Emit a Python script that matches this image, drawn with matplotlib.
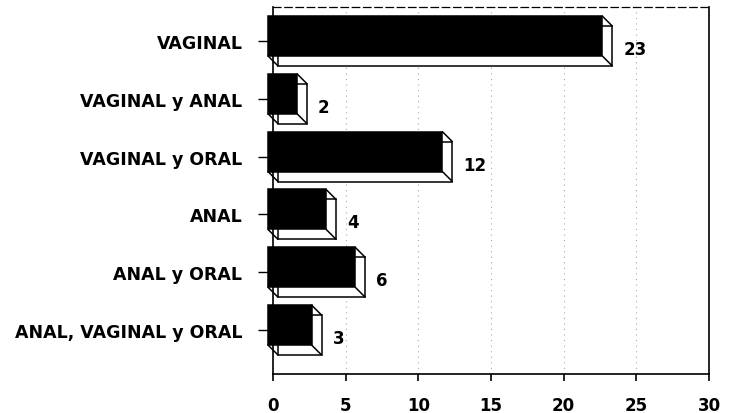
import numpy as np
import matplotlib
matplotlib.use("Agg")
import matplotlib.pyplot as plt
import matplotlib.transforms as mtransforms

# data
categories = ["VAGINAL", "VAGINAL y ANAL", "VAGINAL y ORAL", "ANAL",
              "ANAL y ORAL", "ANAL, VAGINAL y ORAL"]
values = [23, 2, 12, 4, 6, 3]
x_ticks = [0, 5, 10, 15, 20, 25, 30]

plt.rcParams["font.family"] = ["DejaVu Sans"]
plt.rcParams["font.weight"] = "bold"

fig = plt.figure(figsize=(7.39, 4.14), dpi=100)
ax = fig.add_axes([0.3694, 0.0942, 0.59, 0.8868])

pos = np.arange(len(categories))
h = 0.69

# 3d-ish offset: front face up-left, back face down-right
d = 0.05  # inches (5 px)
front_tr = ax.transData + mtransforms.ScaledTranslation(-d, d, fig.dpi_scale_trans)
back_tr = ax.transData + mtransforms.ScaledTranslation(d, -d, fig.dpi_scale_trans)

ax.barh(pos, values, height=h, color="white", edgecolor="black",
        linewidth=1.1, transform=back_tr, zorder=2, clip_on=False)
ax.barh(pos, values, height=h, color="black", edgecolor="black",
        linewidth=1.1, transform=front_tr, zorder=3, clip_on=False)

for y, v in zip(pos, values):
    corners = [(v, y - h / 2), (v, y + h / 2), (0, y + h / 2)]
    for c in corners:
        ax.annotate("", xy=c, xycoords=front_tr, xytext=c, textcoords=back_tr,
                    arrowprops=dict(arrowstyle="-", lw=1.1, color="black",
                                    shrinkA=0, shrinkB=0), zorder=4)
    ax.annotate(str(v), xy=(v, y), xytext=(16, -8), textcoords="offset pixels",
                ha="left", va="center", fontsize=12, fontweight="bold")

ax.set_xlim(0, 30)
ax.set_ylim(5.76, -0.59)
ax.set_xticks(x_ticks)
ax.set_xticklabels([str(t) for t in x_ticks], fontsize=12, fontweight="bold")
ax.set_yticks(pos)
ax.set_yticklabels(categories, fontsize=12.5, fontweight="bold")

ax.tick_params(axis="y", length=11, width=1, pad=11)
ax.tick_params(axis="x", length=5, width=1.2, pad=11)

ax.grid(axis="x", linestyle=(0, (1, 4)), color="#aaaaaa", linewidth=0.8)
ax.set_axisbelow(True)

for s in ["left", "bottom", "right"]:
    ax.spines[s].set_linewidth(1.2)
ax.spines["top"].set_linestyle((0, (6, 3)))
ax.spines["top"].set_linewidth(0.9)

fig.savefig("out.png", dpi=100)
